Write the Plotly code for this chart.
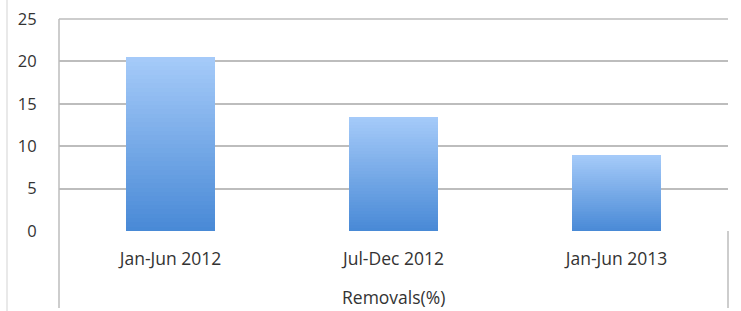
import plotly.graph_objects as go

categories = ["Jan-Jun 2012", "Jul-Dec 2012", "Jan-Jun 2013"]
removals = [20.5, 13.5, 9.0]
y_ticks = [0, 5, 10, 15, 20, 25]
axis_title = "Removals(%)"

# vertical gradient (bottom -> top) made of stacked slices of each bar
N = 40
bottom_rgb = (72, 137, 214)
top_rgb = (166, 203, 249)

def mix(t):
    r = round(bottom_rgb[0] + (top_rgb[0] - bottom_rgb[0]) * t)
    g = round(bottom_rgb[1] + (top_rgb[1] - bottom_rgb[1]) * t)
    b = round(bottom_rgb[2] + (top_rgb[2] - bottom_rgb[2]) * t)
    return f"rgb({r},{g},{b})"

fig = go.Figure()
for i in range(N):
    fig.add_trace(go.Bar(
        x=categories,
        y=[v / N for v in removals],
        width=0.4,
        marker=dict(color=mix((i + 0.5) / N), line=dict(width=0)),
        showlegend=False,
        hoverinfo="skip",
    ))

font_family = "Open Sans, Lato, sans-serif"
grid = "#bdbdbd"
fs = 17.5
fs_y = 16.5

fig.update_layout(
    width=741, height=311,
    margin=dict(l=59, r=13, t=19, b=80),
    barmode="stack",
    bargap=0.6,
    paper_bgcolor="white",
    plot_bgcolor="white",
    font=dict(family=font_family, size=fs, color="#333333"),
    xaxis=dict(
        automargin=False,
        showgrid=False, zeroline=False, showline=False,
        ticks="outside", ticklen=12, tickcolor="rgba(0,0,0,0)",
        tickfont=dict(size=fs, color="#333333"),
    ),
    yaxis=dict(
        automargin=False,
        range=[0, 25], tickvals=y_ticks,
        showgrid=True, gridcolor=grid, gridwidth=1.5,
        zeroline=False, showline=False,
        ticks="outside", ticklen=18, tickcolor="rgba(0,0,0,0)",
        tickfont=dict(size=fs_y, color="#333333"),
    ),
    shapes=[
        dict(type="line", xref="paper", yref="paper", x0=0, x1=1, y0=1, y1=1,
             line=dict(color=grid, width=1.5)),
        dict(type="line", xref="paper", yref="paper", x0=0, x1=0, y0=-0.363, y1=1,
             line=dict(color=grid, width=1.5)),
        dict(type="line", xref="paper", yref="paper", x0=1, x1=1, y0=-0.363, y1=0,
             line=dict(color=grid, width=1.5)),
        dict(type="line", xref="paper", yref="paper", x0=-0.0777, x1=-0.0777, y0=-0.38, y1=1.09,
             line=dict(color="#e2e2e2", width=1.5)),
    ],
    annotations=[
        dict(text=axis_title, xref="paper", yref="paper", x=0.5, y=-0.311,
             xanchor="center", yanchor="middle", showarrow=False,
             font=dict(size=fs, color="#333333")),
    ],
)

fig.write_html(
    "out.html",
    config={"displayModeBar": False},
    post_script="document.body.style.margin='0';document.body.style.overflow='hidden';",
)
